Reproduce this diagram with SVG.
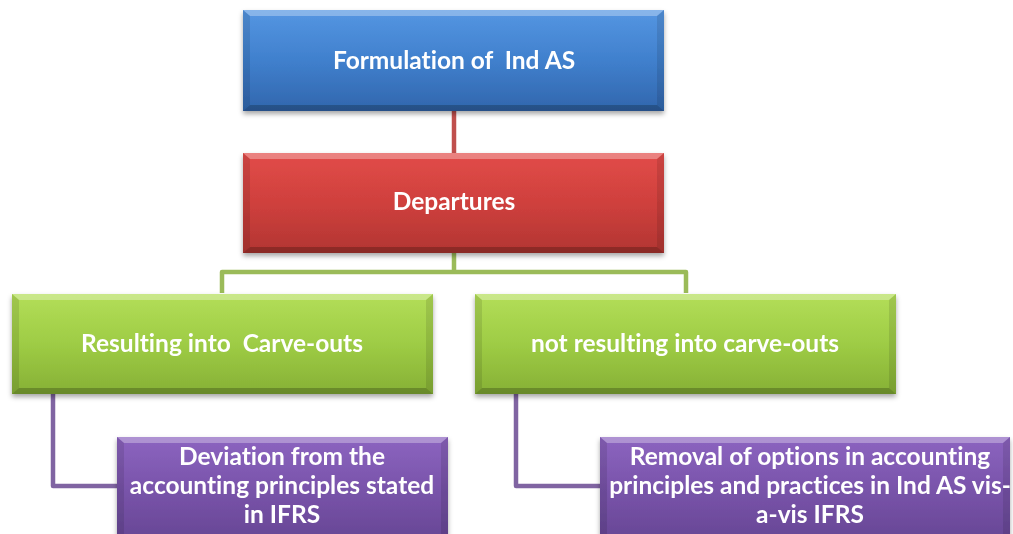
<svg xmlns="http://www.w3.org/2000/svg" width="1013" height="534" viewBox="0 0 1013 534">
<defs>
<linearGradient id="gBlue" x1="0" y1="0" x2="0" y2="1"><stop offset="0" stop-color="#5596e2"/><stop offset="0.5" stop-color="#4080cd"/><stop offset="1" stop-color="#3166ad"/></linearGradient>
<linearGradient id="gRed" x1="0" y1="0" x2="0" y2="1"><stop offset="0" stop-color="#e24c49"/><stop offset="0.5" stop-color="#cf403d"/><stop offset="1" stop-color="#b23532"/></linearGradient>
<linearGradient id="gGreen" x1="0" y1="0" x2="0" y2="1"><stop offset="0" stop-color="#b3de58"/><stop offset="0.5" stop-color="#9ecc45"/><stop offset="1" stop-color="#86b035"/></linearGradient>
<linearGradient id="gPurple" x1="0" y1="0" x2="0" y2="1"><stop offset="0" stop-color="#8c64c0"/><stop offset="0.5" stop-color="#7853a9"/><stop offset="1" stop-color="#654592"/></linearGradient>
<filter id="sh" x="-5%" y="-10%" width="110%" height="130%"><feDropShadow dx="0" dy="3" stdDeviation="2.5" flood-color="#000" flood-opacity="0.35"/></filter>
</defs>
<style>
.t{font-family:Lato,"Open Sans","Liberation Sans",sans-serif;font-weight:bold;font-size:24.5px;fill:#fff;text-anchor:middle;white-space:pre;font-variant-ligatures:none}
.hi{fill:#fff;opacity:0.3}
.lo{fill:#000;opacity:0.22}
.sd{fill:#000;opacity:0.1}
.c{fill:none;stroke-width:4.5;stroke-linejoin:round}
</style>
<g id="connectors">
<path class="c" stroke="#c0504d" d="M454 111 V153"/>
<path class="c" stroke="#9bbb59" d="M454 253 V272 M222 293 V272 H686 V293"/>
<path class="c" stroke="#8064a2" d="M53 394 V486 H117"/>
<path class="c" stroke="#8064a2" d="M516 394 V486 H600"/>
</g>
<g id="n1" filter="url(#sh)">
<rect x="243" y="10" width="421" height="101" fill="url(#gBlue)"/>
<polygon class="hi" points="243,10 664,10 657,16 250,16"/>
<polygon class="sd" points="243,10 250,16 250,105 243,111"/>
<polygon class="sd" points="664,10 657,16 657,105 664,111"/>
<polygon class="lo" points="243,111 664,111 657,105 250,105"/>
<text class="t" x="454" y="69" xml:space="preserve">Formulation of  Ind AS</text>
</g>
<g id="n2" filter="url(#sh)">
<rect x="243" y="153" width="421" height="100" fill="url(#gRed)"/>
<polygon class="hi" points="243,153 664,153 657,159 250,159"/>
<polygon class="sd" points="243,153 250,159 250,247 243,253"/>
<polygon class="sd" points="664,153 657,159 657,247 664,253"/>
<polygon class="lo" points="243,253 664,253 657,247 250,247"/>
<text class="t" x="454" y="210">Departures</text>
</g>
<g id="n3" filter="url(#sh)">
<rect x="12" y="294" width="421" height="100" fill="url(#gGreen)"/>
<polygon class="hi" points="12,294 433,294 426,300 19,300"/>
<polygon class="sd" points="12,294 19,300 19,388 12,394"/>
<polygon class="sd" points="433,294 426,300 426,388 433,394"/>
<polygon class="lo" points="12,394 433,394 426,388 19,388"/>
<text class="t" x="222" y="352" xml:space="preserve">Resulting into  Carve-outs</text>
</g>
<g id="n4" filter="url(#sh)">
<rect x="475" y="294" width="421" height="100" fill="url(#gGreen)"/>
<polygon class="hi" points="475,294 896,294 889,300 482,300"/>
<polygon class="sd" points="475,294 482,300 482,388 475,394"/>
<polygon class="sd" points="896,294 889,300 889,388 896,394"/>
<polygon class="lo" points="475,394 896,394 889,388 482,388"/>
<text class="t" x="685" y="352">not resulting into carve-outs</text>
</g>
<g id="n5" filter="url(#sh)">
<rect x="117" y="437" width="331" height="110" fill="url(#gPurple)"/>
<polygon class="hi" points="117,437 448,437 441,443 124,443"/>
<polygon class="sd" points="117,437 124,443 124,547 117,547"/>
<polygon class="sd" points="448,437 441,443 441,547 448,547"/>
<text class="t" x="282" y="465">Deviation from the</text>
<text class="t" x="282" y="494">accounting principles stated</text>
<text class="t" x="282" y="523">in IFRS</text>
</g>
<g id="n6" filter="url(#sh)">
<rect x="600" y="437" width="410" height="110" fill="url(#gPurple)"/>
<polygon class="hi" points="600,437 1010,437 1003,443 607,443"/>
<polygon class="sd" points="600,437 607,443 607,547 600,547"/>
<polygon class="sd" points="1010,437 1003,443 1003,547 1010,547"/>
<text class="t" x="810" y="465">Removal of options in accounting</text>
<text class="t" x="810" y="494">principles and practices in Ind AS vis-</text>
<text class="t" x="810" y="523">a-vis IFRS</text>
</g>
</svg>
